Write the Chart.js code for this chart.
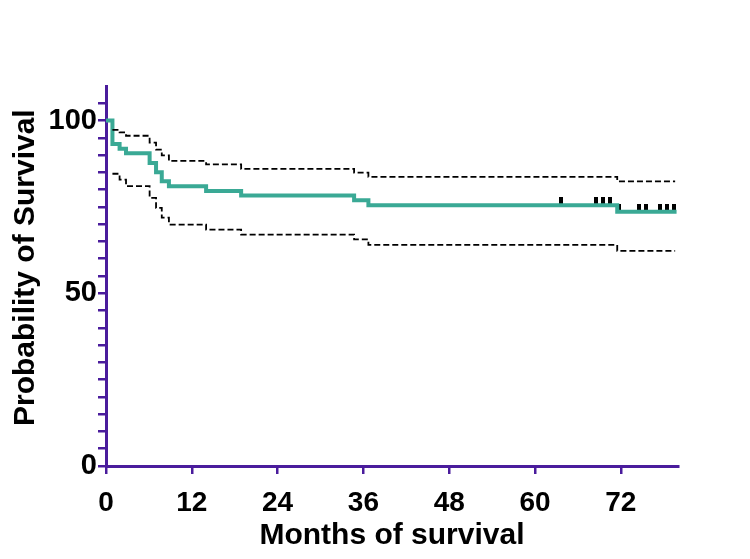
<!DOCTYPE html>
<html><head><meta charset="utf-8">
<script src="https://cdn.jsdelivr.net/npm/chart.js@4/dist/chart.umd.min.js"></script>
<style>html,body{margin:0;padding:0;background:#fff}</style>
</head><body>
<canvas id="c" width="750" height="559"></canvas>
<script>
// Kaplan-Meier survival estimate (event months and survival %)
const eventMonths = [0, 0.9, 1.9, 2.8, 6.1, 7.0, 7.8, 8.8, 14.0, 18.9, 34.7, 36.7, 71.5, 79.8];
const survival    = [100, 93.2, 91.8, 90.5, 87.7, 85.0, 82.4, 81.0, 79.6, 78.3, 76.9, 75.5, 73.6, 73.6];
// 95% confidence band
const ciMonths = [0.9, 1.9, 2.8, 6.1, 7.0, 7.8, 8.8, 14.0, 18.9, 34.7, 36.7, 71.5, 79.6];
const upperCI  = [97.3, 96.6, 95.6, 93.6, 91.6, 89.9, 88.3, 87.3, 86.0, 84.9, 83.7, 82.4, 82.4];
const lowerCI  = [84.6, 82.9, 81.0, 77.6, 74.7, 71.9, 69.9, 68.4, 67.0, 65.6, 64.0, 62.3, 62.3];
// censored observations
const censorMonths   = [63.6, 68.6, 69.5, 70.5, 71.7, 74.5, 75.5, 77.5, 78.5, 79.5];
const censorSurvival = [75.5, 75.5, 75.5, 75.5, 73.6, 73.6, 73.6, 73.6, 73.6, 73.6];
const xTicks = [0, 12, 24, 36, 48, 60, 72];
const yLabelled = [0, 50, 100];

const pts = (xs, ys) => xs.map((x, i) => ({x: x, y: ys[i]}));

const mark = document.createElement('canvas');
mark.width = 4; mark.height = 16;
const mctx = mark.getContext('2d');
mctx.fillStyle = '#000';
mctx.fillRect(0, 0, 4, 8);

const AXIS = '#4a1c9c';
const FONT = "'Liberation Sans', Arial, sans-serif";

new Chart(document.getElementById('c'), {
  type: 'line',
  data: {
    datasets: [
      {data: pts(ciMonths, upperCI), stepped: 'before', borderColor: '#000', borderWidth: 1.8,
       borderDash: [6, 3], pointRadius: 0, fill: false},
      {data: pts(ciMonths, lowerCI), stepped: 'before', borderColor: '#000', borderWidth: 1.8,
       borderDash: [6, 3], pointRadius: 0, fill: false},
      {data: pts(eventMonths, survival), stepped: 'before', borderColor: '#3aa995', borderWidth: 4,
       pointRadius: 0, fill: false},
      {data: pts(censorMonths, censorSurvival), showLine: false, pointStyle: mark,
       pointRadius: 5, borderWidth: 0}
    ]
  },
  options: {
    responsive: false,
    animation: false,
    events: [],
    layout: {padding: {left: 0, top: 86, right: 72, bottom: 0}},
    plugins: {legend: {display: false}, tooltip: {enabled: false}},
    scales: {
      x: {
        type: 'linear', min: 0, max: 80,
        afterFit: s => { s.height = 93; },
        afterBuildTicks: s => { s.ticks = xTicks.map(v => ({value: v})); },
        border: {display: true, color: AXIS, width: 3},
        grid: {drawOnChartArea: false, drawTicks: true, tickLength: 8, color: AXIS, lineWidth: 2.5},
        ticks: {color: '#000', padding: 12, font: {family: FONT, size: 28, weight: 'bold'}, maxRotation: 0},
        title: {display: true, text: 'Months of survival', color: '#000',
                font: {family: FONT, size: 30, weight: 'bold'}, padding: {top: 0, bottom: 5}}
      },
      y: {
        type: 'linear', min: 0, max: 110,
        afterFit: s => { s.width = 106; },
        afterBuildTicks: s => { const t = []; for (let v = 0; v <= 105; v += 5) t.push({value: v}); s.ticks = t; },
        border: {display: true, color: AXIS, width: 3},
        grid: {drawOnChartArea: false, drawTicks: true, tickLength: 8, color: AXIS, lineWidth: 2.5},
        ticks: {color: '#000', padding: 1, autoSkip: false,
                callback: v => yLabelled.includes(v) ? String(v) : '',
                font: {family: FONT, size: 29, weight: 'bold'}},
        title: {display: true, text: '  Probability of Survival', color: '#000',
                font: {family: FONT, size: 30, weight: 'bold'}, padding: {top: 8, bottom: 0}}
      }
    }
  }
});
</script>
</body></html>
